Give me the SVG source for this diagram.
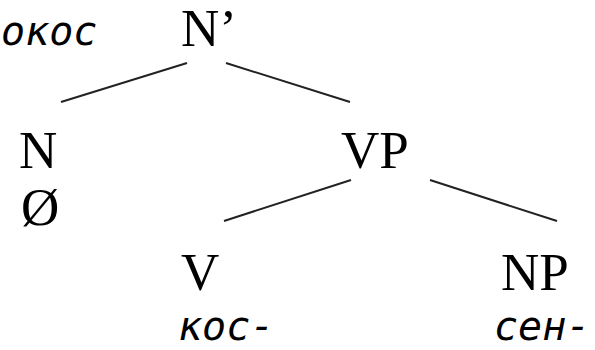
<svg xmlns="http://www.w3.org/2000/svg" width="595" height="350" viewBox="0 0 595 350">
<style>
.lab{font-family:"Liberation Serif","Times New Roman",serif;font-size:53px;fill:#000}
.it{font-family:"DejaVu Sans Mono","Liberation Mono",monospace;font-style:italic;font-size:40px;fill:#000}
.edge{stroke:#222;stroke-width:2;fill:none}
</style>
<rect width="595" height="350" fill="#fff"/>
<g id="connectors">
<line class="edge" x1="61" y1="102" x2="187" y2="63"/>
<line class="edge" x1="226" y1="63" x2="350" y2="102"/>
<line class="edge" x1="224" y1="221" x2="351" y2="180"/>
<line class="edge" x1="430" y1="180" x2="557" y2="221"/>
</g>
<g id="root">
<text class="it" x="1" y="45">окос</text>
<text class="lab" x="181" y="46">N’</text>
</g>
<g id="n">
<text class="lab" x="19" y="168">N</text>
<text class="lab" x="21" y="225">Ø</text>
</g>
<g id="vp">
<text class="lab" x="341" y="168">VP</text>
</g>
<g id="v">
<text class="lab" x="181" y="290">V</text>
<text class="it" x="178" y="340">кос-</text>
</g>
<g id="np">
<text class="lab" x="501" y="290">NP</text>
<text class="it" x="494" y="340">сен-</text>
</g>
</svg>
